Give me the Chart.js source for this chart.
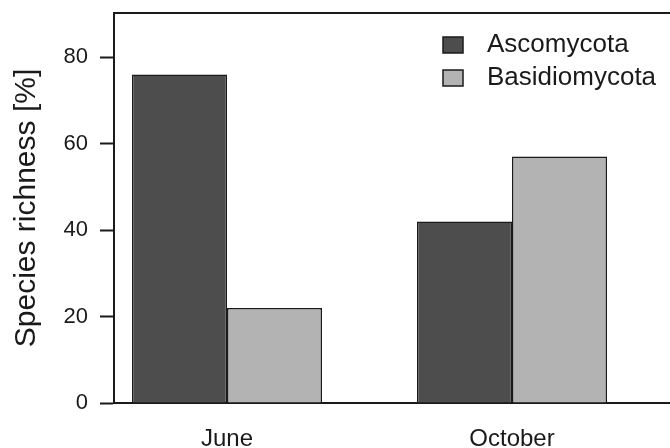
<!DOCTYPE html>
<html>
<head>
<meta charset="utf-8">
<script src="https://cdn.jsdelivr.net/npm/chart.js@4.4.1/dist/chart.umd.min.js"></script>
<style>
  html, body { margin: 0; padding: 0; background: #ffffff; }
  #wrap { width: 670px; height: 448px; }
</style>
</head>
<body>
<div id="wrap"><canvas id="c" width="670" height="448"></canvas></div>
<script>
// Sampling months and species richness share per phylum
const categories = ['June', 'October'];
const ascomycota = [76, 42];
const basidiomycota = [22, 57];
const yTicks = [0, 20, 40, 60, 80];
const seriesNames = ['Ascomycota', 'Basidiomycota'];

const FONT = "'Liberation Sans', Arial, Helvetica, sans-serif";
const INK = '#1a1a1a';

// groups sit 3 bar-widths apart, each group two bars wide
const groupX = categories.map((_, i) => 2 + 3 * i);
const toPoints = vals => vals.map((v, i) => ({ x: groupX[i], y: v }));

// top edge of the plot frame and the in-panel legend
const framePlugin = {
  id: 'frame',
  afterDraw(chart) {
    const { ctx, chartArea } = chart;
    ctx.save();
    ctx.strokeStyle = INK;
    ctx.lineWidth = 2;
    ctx.beginPath();
    ctx.moveTo(chartArea.left - 1, chartArea.top);
    ctx.lineTo(chartArea.right + 2, chartArea.top);
    ctx.stroke();

    const bx = chartArea.right - 227;
    let by = chartArea.top + 24;
    ctx.font = '26px ' + FONT;
    ctx.textBaseline = 'middle';
    ctx.textAlign = 'left';
    chart.data.datasets.forEach(ds => {
      ctx.fillStyle = ds.backgroundColor;
      ctx.fillRect(bx, by, 20, 16);
      ctx.strokeStyle = INK;
      ctx.lineWidth = 1.5;
      ctx.strokeRect(bx, by, 20, 16);
      ctx.fillStyle = INK;
      ctx.fillText(ds.label, bx + 44, by + 8);
      by += 33;
    });
    ctx.restore();
  }
};

new Chart(document.getElementById('c'), {
  type: 'bar',
  data: {
    datasets: [
      {
        label: seriesNames[0],
        data: toPoints(ascomycota),
        backgroundColor: '#4d4d4d',
        borderColor: INK,
        borderWidth: 1.5,
        borderSkipped: 'start'
      },
      {
        label: seriesNames[1],
        data: toPoints(basidiomycota),
        backgroundColor: '#b3b3b3',
        borderColor: INK,
        borderWidth: 1.5,
        borderSkipped: 'start'
      }
    ]
  },
  plugins: [framePlugin],
  options: {
    responsive: false,
    animation: false,
    devicePixelRatio: 1,
    layout: { padding: { left: 0, right: 0, top: 13, bottom: 0 } },
    categoryPercentage: 2 / 3,
    barPercentage: 1,
    plugins: {
      legend: { display: false },
      tooltip: { enabled: false },
      title: { display: false }
    },
    scales: {
      x: {
        type: 'linear',
        offset: false,
        min: 0.8105,
        max: 6.663,
        afterBuildTicks(scale) {
          scale.ticks = groupX.map(v => ({ value: v }));
        },
        afterFit(scale) {
          scale.height = 45;
          scale.paddingLeft = 0;
          scale.paddingRight = 0;
        },
        ticks: {
          autoSkip: false,
          maxRotation: 0,
          padding: 22,
          color: INK,
          font: { family: FONT, size: 24 },
          callback(value) {
            const i = groupX.indexOf(value);
            return i >= 0 ? categories[i] : '';
          }
        },
        grid: { display: false, drawTicks: false, offset: false },
        border: { display: true, color: INK, width: 2 }
      },
      y: {
        min: 0,
        max: 90.2,
        afterBuildTicks(scale) {
          scale.ticks = yTicks.map(v => ({ value: v }));
        },
        afterFit(scale) {
          scale.width = 114;
          scale.paddingTop = 0;
          scale.paddingBottom = 0;
        },
        ticks: {
          padding: 12,
          color: INK,
          font: { family: FONT, size: 22 }
        },
        grid: {
          drawOnChartArea: false,
          drawTicks: true,
          tickLength: 14,
          tickWidth: 2,
          tickColor: INK
        },
        border: { display: true, color: INK, width: 2 },
        title: {
          display: true,
          text: 'Species richness [%]',
          color: INK,
          font: { family: FONT, size: 30 },
          padding: { top: 9, bottom: 0 }
        }
      }
    }
  }
});
</script>
</body>
</html>
